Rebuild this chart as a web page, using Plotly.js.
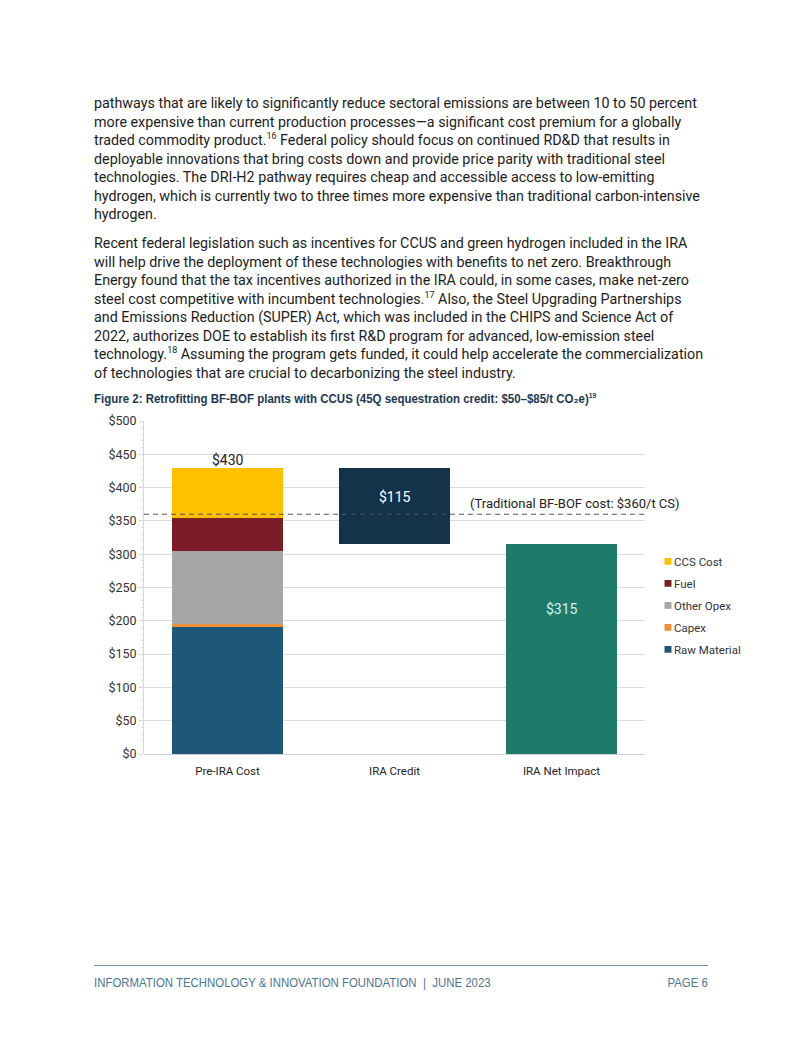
<!DOCTYPE html>
<html><head><meta charset="utf-8">
<script src="https://cdn.plot.ly/plotly-3.0.1.min.js"></script>
<style>
html,body{margin:0;padding:0;background:#fff;width:802px;height:1037px;overflow:hidden;position:relative;}
.p{position:absolute;left:94px;font-family:"Roboto",sans-serif;font-size:14.3px;line-height:18.5px;color:#1c1c1c;white-space:nowrap;}
.p sup{font-size:9px;line-height:0;vertical-align:6px;}
#ftitle{position:absolute;left:94px;top:391px;font-family:"Liberation Sans",sans-serif;font-weight:bold;font-size:13.5px;color:#1d3753;white-space:nowrap;transform:scaleX(0.85);transform-origin:0 0;}
#ftitle sup{font-size:8px;vertical-align:5px;line-height:0;}
#chart{position:absolute;left:0;top:405px;width:802px;height:385px;}
#chart .legend .legendpoints path{transform:translate(34px,0) scale(0.58);}
#rule{position:absolute;left:94px;top:965px;width:614px;height:0;border-top:1.5px solid #6d8ea6;}
.foot{position:absolute;top:975px;font-family:"Liberation Sans",sans-serif;font-size:13.5px;color:#4c7594;white-space:nowrap;transform:scaleX(0.845);}
</style></head><body>
<div class="p" style="top:94px">pathways that are likely to significantly reduce sectoral emissions are between 10 to 50 percent<br>more expensive than current production processes—a significant cost premium for a globally<br>traded commodity product.<sup>16</sup> Federal policy should focus on continued RD&amp;D that results in<br>deployable innovations that bring costs down and provide price parity with traditional steel<br>technologies. The DRI-H2 pathway requires cheap and accessible access to low-emitting<br>hydrogen, which is currently two to three times more expensive than traditional carbon-intensive<br>hydrogen.</div>
<div class="p" style="top:234px">Recent federal legislation such as incentives for CCUS and green hydrogen included in the IRA<br>will help drive the deployment of these technologies with benefits to net zero. Breakthrough<br>Energy found that the tax incentives authorized in the IRA could, in some cases, make net-zero<br>steel cost competitive with incumbent technologies.<sup>17</sup> Also, the Steel Upgrading Partnerships<br>and Emissions Reduction (SUPER) Act, which was included in the CHIPS and Science Act of<br>2022, authorizes DOE to establish its first R&amp;D program for advanced, low-emission steel<br>technology.<sup>18</sup> Assuming the program gets funded, it could help accelerate the commercialization<br>of technologies that are crucial to decarbonizing the steel industry.</div>
<div id="ftitle">Figure 2: Retrofitting BF-BOF plants with CCUS (45Q sequestration credit: $50–$85/t CO₂e)<sup>19</sup></div>
<div id="chart"></div>
<div id="rule"></div>
<div class="foot" style="left:94px;transform-origin:0 0;">INFORMATION TECHNOLOGY &amp; INNOVATION FOUNDATION &nbsp;|&nbsp; JUNE 2023</div>
<div class="foot" style="right:94px;transform-origin:100% 0;">PAGE 6</div>
<script>
const categories = ["Pre-IRA Cost", "IRA Credit", "IRA Net Impact"];
const componentNames = ["Raw Material", "Capex", "Other Opex", "Fuel", "CCS Cost"];
const componentValues = [190, 5, 110, 50, 75];
const componentColors = ["#1e5878", "#ee8f3a", "#a6a6a6", "#7b1c28", "#ffc000"];
const iraCredit = 115;
const iraNet = 315;
const preIraTotal = 430;
const traditionalCost = 360;
const tickVals = [0,50,100,150,200,250,300,350,400,450,500];
const tickText = ["$0","$50","$100","$150","$200","$250","$300","$350","$400","$450","$500"];

const traces = [];
componentNames.forEach((n,i)=>{
  traces.push({type:"bar", name:n, legendgroup:"g"+i, legendrank:componentNames.length - i,
    x:[categories[0]], y:[componentValues[i]],
    marker:{color:componentColors[i]}, width:0.665, hoverinfo:"none"});
});
traces.push({type:"bar", name:"IRA Credit", x:[categories[1]], y:[iraCredit], base:[iraNet],
  marker:{color:"#13334a"}, width:0.665, showlegend:false, hoverinfo:"none"});
traces.push({type:"bar", name:"IRA Net Impact", x:[categories[2]], y:[iraNet],
  marker:{color:"#1e7b6c"}, width:0.665, showlegend:false, hoverinfo:"none"});

const font = {family:"Roboto, sans-serif", size:12, color:"#333"};
const layout = {
  width:802, height:385, margin:{l:144, r:157, t:16, b:36},
  barmode:"stack", bargap:0.335, paper_bgcolor:"rgba(0,0,0,0)", plot_bgcolor:"#fff",
  font:font, showlegend:true,
  legend:{traceorder:"grouped", x:0.978, xanchor:"left", y:0.622, yanchor:"top",
    font:{family:"Roboto, sans-serif", size:11.5, color:"#333"}, itemwidth:30, tracegroupgap:3, itemclick:false},
  xaxis:{type:"category", categoryarray:categories, showgrid:false, zeroline:false, ticks:"outside", ticklen:6,
    tickcolor:"rgba(0,0,0,0)",
    tickfont:{family:"Roboto, sans-serif", size:11.5, color:"#222"}, showline:false},
  yaxis:{range:[0,500], tickvals:tickVals, ticktext:tickText, showgrid:true, gridcolor:"#dcdcdc",
    gridwidth:1, zeroline:true, zerolinecolor:"#d0d0d0", showline:true, linecolor:"#d6d6d6",
    ticks:"outside", ticklen:4, tickcolor:"#d6d6d6", tickfont:{family:"Roboto, sans-serif", size:12.5, color:"#333"},
    minor:{ticks:"outside", ticklen:2, tickcolor:"#e0e0e0", dtick:10}},
  shapes:[{type:"line", xref:"paper", yref:"y", x0:0, x1:1.005, y0:traditionalCost, y1:traditionalCost,
    line:{color:"#555", width:1, dash:"5px,4px"}}],
  annotations:[
    {x:categories[0], y:preIraTotal, text:"$"+preIraTotal, showarrow:false, yanchor:"bottom", yshift:-2,
      font:{family:"Roboto, sans-serif", size:14, color:"#222"}},
    {x:categories[1], y:iraNet + iraCredit*0.62, text:"$"+iraCredit, showarrow:false,
      font:{family:"Roboto, sans-serif", size:14, color:"#ffffff"}},
    {x:categories[2], y:iraNet*0.69, text:"$"+iraNet, showarrow:false,
      font:{family:"Roboto, sans-serif", size:14, color:"#d8f3ec"}},
    {xref:"paper", x:0.646, y:traditionalCost, yanchor:"bottom", yshift:1, xanchor:"left",
      text:"(Traditional BF-BOF cost: $" + traditionalCost + "/t CS)", showarrow:false,
      font:{family:"Roboto, sans-serif", size:13, color:"#222"}}
  ]
};
Plotly.newPlot("chart", traces, layout, {staticPlot:true, displayModeBar:false});
</script>
</body></html>
